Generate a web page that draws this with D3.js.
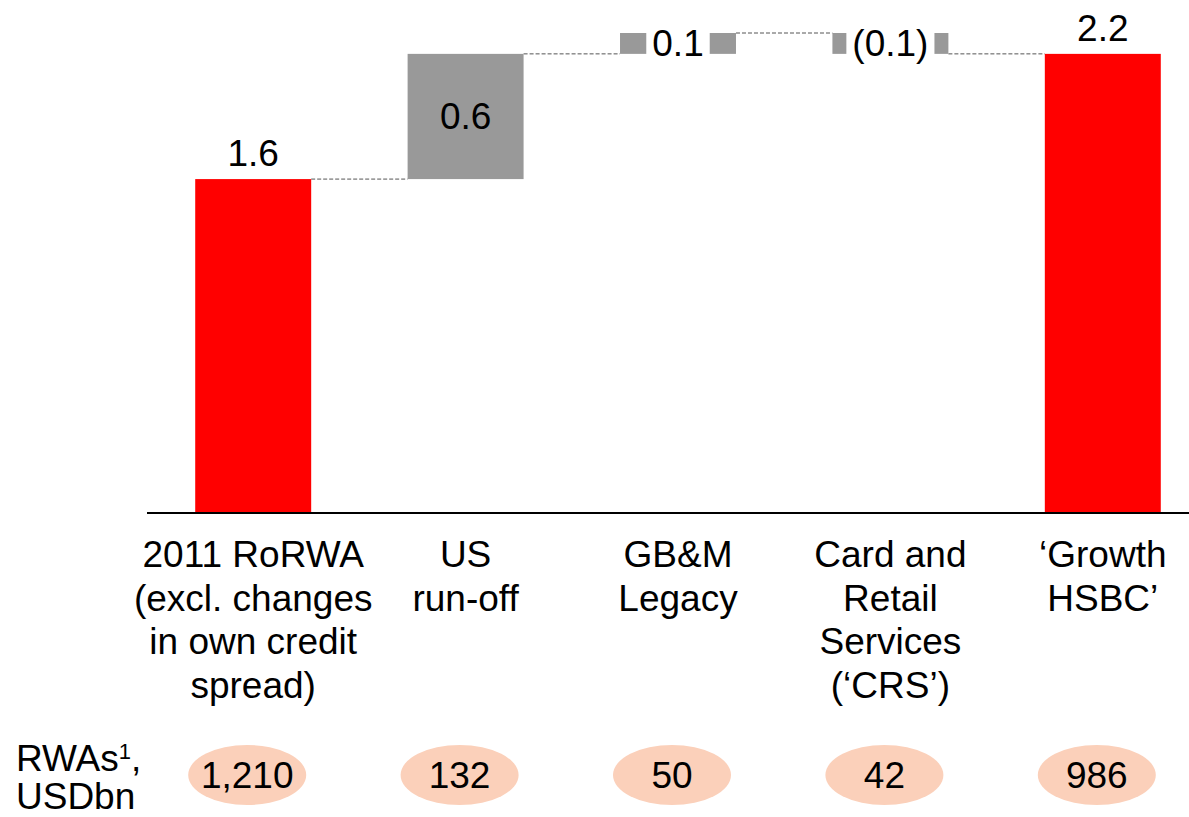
<!DOCTYPE html>
<html lang="en">
<head>
  <meta charset="UTF-8">
  <title>RoRWA bridge</title>
  <script src="https://d3js.org/d3.v7.min.js"></script>
  <style>
    body { margin: 0; background: #fff; }
    svg { display: block; font-family: "Liberation Sans", Arial, sans-serif; }
    .lbl { font-size: 37px; fill: #000; }
    .conn { stroke: #555; stroke-width: 1; stroke-dasharray: 4,2; }
  </style>
</head>
<body>
  <svg id="chart" width="1189" height="817"></svg>
  <script>
    // data
    const categories = [
      ["2011 RoRWA", "(excl. changes", "in own credit", "spread)"],
      ["US", "run-off"],
      ["GB&M", "Legacy"],
      ["Card and", "Retail", "Services", "(‘CRS’)"],
      ["‘Growth", "HSBC’"]
    ];
    const values = [1.6, 0.6, 0.1, -0.1, 2.2];
    const kinds = ["total", "delta", "delta", "delta", "total"];
    const valueLabels = ["1.6", "0.6", "0.1", "(0.1)", "2.2"];
    const rwas = ["1,210", "132", "50", "42", "986"];

    const width = 1189, height = 817;
    const svg = d3.select("#chart");

    // running totals for the waterfall
    let run = 0;
    const bars = values.map((v, i) => {
      let y0, y1;
      if (kinds[i] === "total") { y0 = 0; y1 = v; run = v; }
      else { y0 = run; y1 = run + v; run = y1; }
      return { i, v, y0, y1, end: run, kind: kinds[i], label: valueLabels[i] };
    });

    const x = d3.scaleBand()
      .domain(d3.range(values.length))
      .range([147, 1209])
      .paddingInner(0.454)
      .paddingOuter(0.227);
    const y = d3.scaleLinear().domain([0, 2.3]).range([513, 33]);

    // connectors
    svg.selectAll(".conn")
      .data(bars.slice(0, -1))
      .enter().append("line")
      .attr("class", "conn")
      .attr("x1", d => x(d.i) + x.bandwidth())
      .attr("x2", d => x(d.i + 1))
      .attr("y1", d => y(d.end))
      .attr("y2", d => y(d.end));

    // bars
    svg.selectAll(".bar")
      .data(bars)
      .enter().append("rect")
      .attr("class", "bar")
      .attr("x", d => x(d.i))
      .attr("width", x.bandwidth())
      .attr("y", d => y(Math.max(d.y0, d.y1)))
      .attr("height", d => Math.abs(y(d.y0) - y(d.y1)))
      .attr("fill", d => d.kind === "total" ? "#ff0000" : "#999999");

    // axis line
    svg.append("line")
      .attr("x1", 147).attr("x2", width)
      .attr("y1", y(0)).attr("y2", y(0))
      .attr("stroke", "#000").attr("stroke-width", 2);

    // value labels
    bars.forEach(d => {
      const cx = x(d.i) + x.bandwidth() / 2;
      const top = y(Math.max(d.y0, d.y1)), bot = y(Math.min(d.y0, d.y1));
      if (d.kind === "total") {
        svg.append("text").attr("class", "lbl")
          .attr("x", cx).attr("y", top - 13)
          .attr("text-anchor", "middle").text(d.label);
      } else if (bot - top > 40) {
        svg.append("text").attr("class", "lbl")
          .attr("x", cx).attr("y", (top + bot) / 2 + 13)
          .attr("text-anchor", "middle").text(d.label);
      } else {
        const g = svg.append("g");
        const t = g.append("text").attr("class", "lbl")
          .attr("x", cx).attr("y", (top + bot) / 2 + 13)
          .attr("text-anchor", "middle").text(d.label);
        const w = t.node().getComputedTextLength() + 12;
        g.insert("rect", "text")
          .attr("x", cx - w / 2).attr("width", w)
          .attr("y", top - 1).attr("height", bot - top + 2)
          .attr("fill", "#fff");
      }
    });

    // category labels
    const cat = svg.selectAll(".cat")
      .data(categories)
      .enter().append("text")
      .attr("class", "lbl cat")
      .attr("text-anchor", "middle");
    cat.selectAll("tspan")
      .data((d, i) => d.map(s => ({ s, i })))
      .enter().append("tspan")
      .attr("x", d => x(d.i) + x.bandwidth() / 2)
      .attr("y", (d, j) => 567 + j * 43.5)
      .text(d => d.s);

    // RWA row
    svg.append("text").attr("class", "lbl").attr("x", 16).attr("y", 771)
      .text("RWAs")
      .append("tspan").attr("font-size", 22).attr("dy", -12).text("1")
      .select(function () { return this.parentNode; })
      .append("tspan").attr("dy", 12).text(",");
    svg.append("text").attr("class", "lbl").attr("x", 16).attr("y", 809).text("USDbn");

    svg.selectAll(".rwa")
      .data(rwas)
      .enter().append("ellipse")
      .attr("class", "rwa")
      .attr("cx", (d, i) => x(i) + x.bandwidth() / 2 - 6)
      .attr("cy", 775)
      .attr("rx", 59).attr("ry", 30)
      .attr("fill", "#fbd0ba");
    svg.selectAll(".rwat")
      .data(rwas)
      .enter().append("text")
      .attr("class", "lbl rwat")
      .attr("x", (d, i) => x(i) + x.bandwidth() / 2 - 6)
      .attr("y", 788)
      .attr("text-anchor", "middle")
      .text(d => d);
  </script>
</body>
</html>
